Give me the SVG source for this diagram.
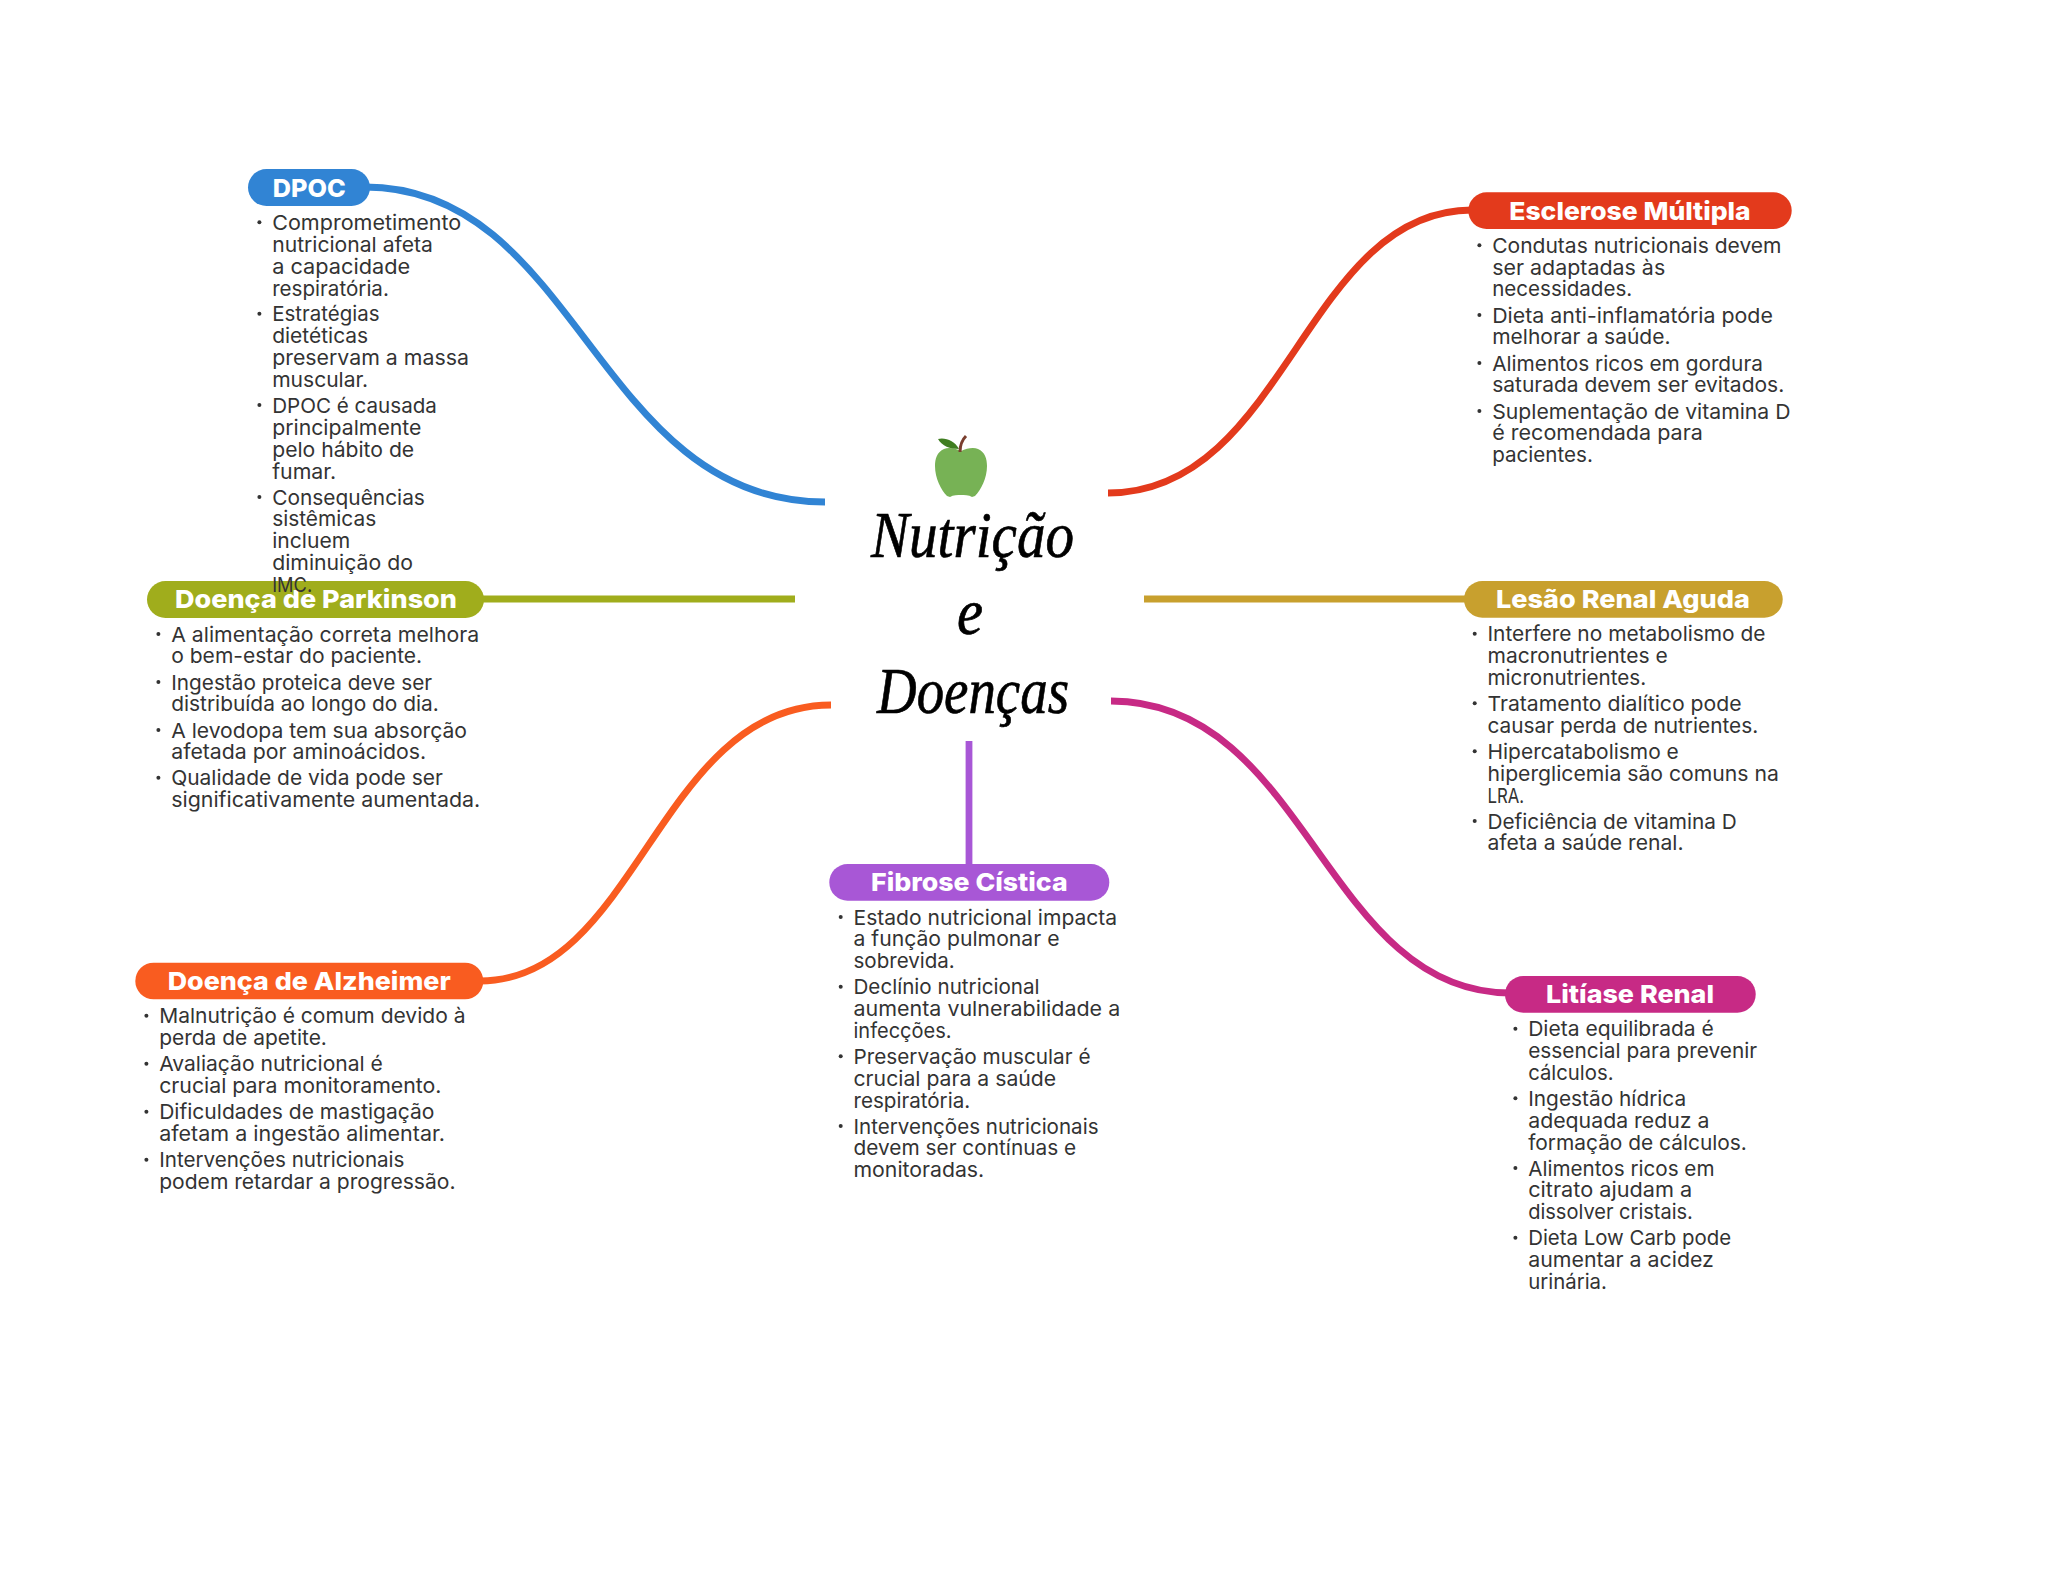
<svg xmlns="http://www.w3.org/2000/svg" width="2048" height="1569" viewBox="0 0 2048 1569">
<style>
.t{font:400 20.5px Inter,"Noto Sans","Liberation Sans",sans-serif;fill:#333;transform:translate(-.5px,.7px)}
.h{font:800 25px Inter,"Noto Sans","Liberation Sans",sans-serif;fill:#fff;transform:translate(0,.8px)}
.s{font:italic 400 66px "Liberation Serif",serif;fill:#000;stroke:#000;stroke-width:.7}
.b{fill:#333}
.c{fill:none;stroke-width:6.8}
</style>
<rect width="2048" height="1569" fill="#fff"/>
<g id="connectors">
<path class="c" stroke="#3184d4" d="M365 187C578 187 597 502 825 502"/>
<path class="c" stroke="#e33a1c" d="M1108 493C1286 493 1305 210 1472 210"/>
<path class="c" stroke="#a0ad1c" d="M480 599H795"/>
<path class="c" stroke="#c8a02e" d="M1144 599H1468"/>
<path class="c" stroke="#f95c20" d="M831 705C659 705 637 981 480 981"/>
<path class="c" stroke="#c72a85" d="M1111 701C1307 701 1325 993 1510 993"/>
<path class="c" stroke="#a857d6" d="M969 741V868"/>
</g>
<g id="root">
<path fill="#77b255" d="M961 451C955 448 948 447 944 449C937 452 935 459 935 466C935 478 941 490 947 496L950 497C953 495 958 495 961 495C964 495 969 495 972 497L975 496C981 490 987 478 987 466C987 459 985 452 978 449C974 447 967 448 961 451Z"/>
<path fill="none" stroke="#7a3e2e" stroke-width="3" d="M960 452C960 446 962 440 966 436"/>
<path fill="#3f7d20" d="M938 439C945 437 955 441 959 449C950 449 942 446 938 439Z"/>
<text class="s" x="871" y="557" textLength="203" lengthAdjust="spacingAndGlyphs">Nutrição</text>
<text class="s" x="957" y="634" textLength="26" lengthAdjust="spacingAndGlyphs">e</text>
<text class="s" x="877" y="713" textLength="192" lengthAdjust="spacingAndGlyphs">Doenças</text>
</g>
<g id="node-parkinson">
<rect x="147" y="581" width="337" height="37" rx="18.5" fill="#a0ad1c"/>
<text class="h" x="175" y="607.7" textLength="282" lengthAdjust="spacingAndGlyphs">Doença de Parkinson</text>
<circle class="b" cx="158.4" cy="634" r="2"/><text class="t" x="171.7" y="641" textLength="308" lengthAdjust="spacingAndGlyphs">A alimentação correta melhora</text>
<text class="t" x="171.7" y="662.7" textLength="251" lengthAdjust="spacingAndGlyphs">o bem-estar do paciente.</text>
<circle class="b" cx="158.4" cy="682" r="2"/><text class="t" x="171.7" y="689" textLength="261" lengthAdjust="spacingAndGlyphs">Ingestão proteica deve ser</text>
<text class="t" x="171.7" y="710.7" textLength="267.7" lengthAdjust="spacingAndGlyphs">distribuída ao longo do dia.</text>
<circle class="b" cx="158.4" cy="730" r="2"/><text class="t" x="171.7" y="737" textLength="295.7" lengthAdjust="spacingAndGlyphs">A levodopa tem sua absorção</text>
<text class="t" x="171.7" y="758.7" textLength="255" lengthAdjust="spacingAndGlyphs">afetada por aminoácidos.</text>
<circle class="b" cx="158.4" cy="777.7" r="2"/><text class="t" x="171.7" y="784.7" textLength="271.7" lengthAdjust="spacingAndGlyphs">Qualidade de vida pode ser</text>
<text class="t" x="171.7" y="806.3" textLength="309" lengthAdjust="spacingAndGlyphs">significativamente aumentada.</text>
</g>
<g id="node-dpoc">
<rect x="248" y="169" width="122" height="37" rx="18.5" fill="#3184d4"/>
<text class="h" x="272.7" y="196" textLength="73" lengthAdjust="spacingAndGlyphs">DPOC</text>
<circle class="b" cx="259.4" cy="222.3" r="2"/><text class="t" x="272.7" y="229.3" textLength="189" lengthAdjust="spacingAndGlyphs">Comprometimento</text>
<text class="t" x="272.7" y="251" textLength="160.7" lengthAdjust="spacingAndGlyphs">nutricional afeta</text>
<text class="t" x="272.7" y="273" textLength="138" lengthAdjust="spacingAndGlyphs">a capacidade</text>
<text class="t" x="272.7" y="295" textLength="116.7" lengthAdjust="spacingAndGlyphs">respiratória.</text>
<circle class="b" cx="259.4" cy="313.7" r="2"/><text class="t" x="272.7" y="320.7" textLength="107.3" lengthAdjust="spacingAndGlyphs">Estratégias</text>
<text class="t" x="272.7" y="342.5" textLength="96" lengthAdjust="spacingAndGlyphs">dietéticas</text>
<text class="t" x="272.7" y="364.5" textLength="196.7" lengthAdjust="spacingAndGlyphs">preservam a massa</text>
<text class="t" x="272.7" y="386.5" textLength="96" lengthAdjust="spacingAndGlyphs">muscular.</text>
<circle class="b" cx="259.4" cy="405" r="2"/><text class="t" x="272.7" y="412" textLength="164.7" lengthAdjust="spacingAndGlyphs">DPOC é causada</text>
<text class="t" x="272.7" y="434" textLength="149.3" lengthAdjust="spacingAndGlyphs">principalmente</text>
<text class="t" x="272.7" y="456" textLength="142" lengthAdjust="spacingAndGlyphs">pelo hábito de</text>
<text class="t" x="272.7" y="478" textLength="64" lengthAdjust="spacingAndGlyphs">fumar.</text>
<circle class="b" cx="259.4" cy="497" r="2"/><text class="t" x="272.7" y="504" textLength="152.7" lengthAdjust="spacingAndGlyphs">Consequências</text>
<text class="t" x="272.7" y="525.7" textLength="104" lengthAdjust="spacingAndGlyphs">sistêmicas</text>
<text class="t" x="272.7" y="547.6" textLength="78" lengthAdjust="spacingAndGlyphs">incluem</text>
<text class="t" x="272.7" y="569.4" textLength="140.7" lengthAdjust="spacingAndGlyphs">diminuição do</text>
<text class="t" x="272.7" y="591" textLength="40" lengthAdjust="spacingAndGlyphs">IMC.</text>
</g>
<g id="node-alzheimer">
<rect x="135.3" y="962.7" width="348" height="36.6" rx="18.3" fill="#f95c20"/>
<text class="h" x="167.7" y="989.3" textLength="283" lengthAdjust="spacingAndGlyphs">Doença de Alzheimer</text>
<circle class="b" cx="146.4" cy="1015.7" r="2"/><text class="t" x="159.7" y="1022.7" textLength="306.3" lengthAdjust="spacingAndGlyphs">Malnutrição é comum devido à</text>
<text class="t" x="159.7" y="1044.3" textLength="167.7" lengthAdjust="spacingAndGlyphs">perda de apetite.</text>
<circle class="b" cx="146.4" cy="1063.7" r="2"/><text class="t" x="159.7" y="1070.7" textLength="223.7" lengthAdjust="spacingAndGlyphs">Avaliação nutricional é</text>
<text class="t" x="159.7" y="1092.3" textLength="282.3" lengthAdjust="spacingAndGlyphs">crucial para monitoramento.</text>
<circle class="b" cx="146.4" cy="1111.7" r="2"/><text class="t" x="159.7" y="1118.7" textLength="275.3" lengthAdjust="spacingAndGlyphs">Dificuldades de mastigação</text>
<text class="t" x="159.7" y="1140.3" textLength="285.7" lengthAdjust="spacingAndGlyphs">afetam a ingestão alimentar.</text>
<circle class="b" cx="146.4" cy="1159.7" r="2"/><text class="t" x="159.7" y="1166.7" textLength="245.3" lengthAdjust="spacingAndGlyphs">Intervenções nutricionais</text>
<text class="t" x="159.7" y="1188.3" textLength="296.3" lengthAdjust="spacingAndGlyphs">podem retardar a progressão.</text>
</g>
<g id="node-fibrose">
<rect x="829.3" y="864" width="280" height="36.7" rx="18.3" fill="#a857d6"/>
<text class="h" x="871" y="890.7" textLength="196.7" lengthAdjust="spacingAndGlyphs">Fibrose Cística</text>
<circle class="b" cx="840.7" cy="917" r="2"/><text class="t" x="854" y="924" textLength="263.7" lengthAdjust="spacingAndGlyphs">Estado nutricional impacta</text>
<text class="t" x="854" y="945.7" textLength="206" lengthAdjust="spacingAndGlyphs">a função pulmonar e</text>
<text class="t" x="854" y="967.7" textLength="101.3" lengthAdjust="spacingAndGlyphs">sobrevida.</text>
<circle class="b" cx="840.7" cy="986.7" r="2"/><text class="t" x="854" y="993.7" textLength="186" lengthAdjust="spacingAndGlyphs">Declínio nutricional</text>
<text class="t" x="854" y="1015.3" textLength="266.7" lengthAdjust="spacingAndGlyphs">aumenta vulnerabilidade a</text>
<text class="t" x="854" y="1037.3" textLength="98" lengthAdjust="spacingAndGlyphs">infecções.</text>
<circle class="b" cx="840.7" cy="1056.3" r="2"/><text class="t" x="854" y="1063.3" textLength="237" lengthAdjust="spacingAndGlyphs">Preservação muscular é</text>
<text class="t" x="854" y="1085" textLength="202.7" lengthAdjust="spacingAndGlyphs">crucial para a saúde</text>
<text class="t" x="854" y="1107" textLength="116.7" lengthAdjust="spacingAndGlyphs">respiratória.</text>
<circle class="b" cx="840.7" cy="1126" r="2"/><text class="t" x="854" y="1133" textLength="245" lengthAdjust="spacingAndGlyphs">Intervenções nutricionais</text>
<text class="t" x="854" y="1154.7" textLength="222.7" lengthAdjust="spacingAndGlyphs">devem ser contínuas e</text>
<text class="t" x="854" y="1176.7" textLength="130.7" lengthAdjust="spacingAndGlyphs">monitoradas.</text>
</g>
<g id="node-esclerose">
<rect x="1468.3" y="192.3" width="323.4" height="36.7" rx="18.3" fill="#e33a1c"/>
<text class="h" x="1509.3" y="219.3" textLength="241.4" lengthAdjust="spacingAndGlyphs">Esclerose Múltipla</text>
<circle class="b" cx="1479.4" cy="245.3" r="2"/><text class="t" x="1492.7" y="252.3" textLength="289.3" lengthAdjust="spacingAndGlyphs">Condutas nutricionais devem</text>
<text class="t" x="1492.7" y="274" textLength="173" lengthAdjust="spacingAndGlyphs">ser adaptadas às</text>
<text class="t" x="1492.7" y="295.7" textLength="140" lengthAdjust="spacingAndGlyphs">necessidades.</text>
<circle class="b" cx="1479.4" cy="315" r="2"/><text class="t" x="1492.7" y="322" textLength="280.7" lengthAdjust="spacingAndGlyphs">Dieta anti-inflamatória pode</text>
<text class="t" x="1492.7" y="343.7" textLength="178.3" lengthAdjust="spacingAndGlyphs">melhorar a saúde.</text>
<circle class="b" cx="1479.4" cy="363" r="2"/><text class="t" x="1492.7" y="370" textLength="270.7" lengthAdjust="spacingAndGlyphs">Alimentos ricos em gordura</text>
<text class="t" x="1492.7" y="391.7" textLength="292" lengthAdjust="spacingAndGlyphs">saturada devem ser evitados.</text>
<circle class="b" cx="1479.4" cy="411" r="2"/><text class="t" x="1492.7" y="418" textLength="298.3" lengthAdjust="spacingAndGlyphs">Suplementação de vitamina D</text>
<text class="t" x="1492.7" y="439.7" textLength="210.7" lengthAdjust="spacingAndGlyphs">é recomendada para</text>
<text class="t" x="1492.7" y="461.7" textLength="100.7" lengthAdjust="spacingAndGlyphs">pacientes.</text>
</g>
<g id="node-lesao">
<rect x="1464" y="581" width="318.7" height="36.7" rx="18.3" fill="#c8a02e"/>
<text class="h" x="1496" y="607.7" textLength="254" lengthAdjust="spacingAndGlyphs">Lesão Renal Aguda</text>
<circle class="b" cx="1474.7" cy="633.7" r="2"/><text class="t" x="1488" y="640.7" textLength="278" lengthAdjust="spacingAndGlyphs">Interfere no metabolismo de</text>
<text class="t" x="1488" y="662.3" textLength="180.3" lengthAdjust="spacingAndGlyphs">macronutrientes e</text>
<text class="t" x="1488" y="684.3" textLength="158.7" lengthAdjust="spacingAndGlyphs">micronutrientes.</text>
<circle class="b" cx="1474.7" cy="703.3" r="2"/><text class="t" x="1488" y="710.3" textLength="254" lengthAdjust="spacingAndGlyphs">Tratamento dialítico pode</text>
<text class="t" x="1488" y="732" textLength="270.7" lengthAdjust="spacingAndGlyphs">causar perda de nutrientes.</text>
<circle class="b" cx="1474.7" cy="751.3" r="2"/><text class="t" x="1488" y="758.3" textLength="191.3" lengthAdjust="spacingAndGlyphs">Hipercatabolismo e</text>
<text class="t" x="1488" y="780" textLength="291.3" lengthAdjust="spacingAndGlyphs">hiperglicemia são comuns na</text>
<text class="t" x="1488" y="802" textLength="36.7" lengthAdjust="spacingAndGlyphs">LRA.</text>
<circle class="b" cx="1474.7" cy="821" r="2"/><text class="t" x="1488" y="828" textLength="249.3" lengthAdjust="spacingAndGlyphs">Deficiência de vitamina D</text>
<text class="t" x="1488" y="849.7" textLength="196" lengthAdjust="spacingAndGlyphs">afeta a saúde renal.</text>
</g>
<g id="node-litiase">
<rect x="1505" y="976" width="250.7" height="36.7" rx="18.3" fill="#c72a85"/>
<text class="h" x="1546" y="1002.7" textLength="168" lengthAdjust="spacingAndGlyphs">Litíase Renal</text>
<circle class="b" cx="1515.4" cy="1028.7" r="2"/><text class="t" x="1528.7" y="1035.7" textLength="185.7" lengthAdjust="spacingAndGlyphs">Dieta equilibrada é</text>
<text class="t" x="1528.7" y="1057.3" textLength="229" lengthAdjust="spacingAndGlyphs">essencial para prevenir</text>
<text class="t" x="1528.7" y="1079.3" textLength="85.3" lengthAdjust="spacingAndGlyphs">cálculos.</text>
<circle class="b" cx="1515.4" cy="1098.3" r="2"/><text class="t" x="1528.7" y="1105.3" textLength="158" lengthAdjust="spacingAndGlyphs">Ingestão hídrica</text>
<text class="t" x="1528.7" y="1127" textLength="181.3" lengthAdjust="spacingAndGlyphs">adequada reduz a</text>
<text class="t" x="1528.7" y="1149" textLength="218.7" lengthAdjust="spacingAndGlyphs">formação de cálculos.</text>
<circle class="b" cx="1515.4" cy="1168" r="2"/><text class="t" x="1528.7" y="1175" textLength="186.3" lengthAdjust="spacingAndGlyphs">Alimentos ricos em</text>
<text class="t" x="1528.7" y="1196.7" textLength="164" lengthAdjust="spacingAndGlyphs">citrato ajudam a</text>
<text class="t" x="1528.7" y="1218.7" textLength="164.7" lengthAdjust="spacingAndGlyphs">dissolver cristais.</text>
<circle class="b" cx="1515.4" cy="1237.7" r="2"/><text class="t" x="1528.7" y="1244.7" textLength="203" lengthAdjust="spacingAndGlyphs">Dieta Low Carb pode</text>
<text class="t" x="1528.7" y="1266.3" textLength="185.7" lengthAdjust="spacingAndGlyphs">aumentar a acidez</text>
<text class="t" x="1528.7" y="1288.3" textLength="78.7" lengthAdjust="spacingAndGlyphs">urinária.</text>
</g>
</svg>
